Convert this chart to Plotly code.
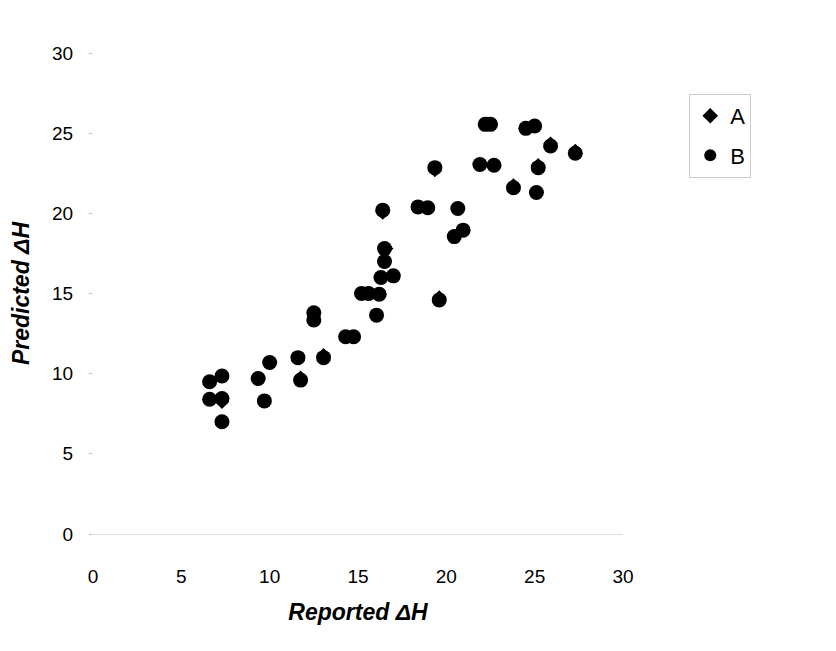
import plotly.graph_objects as go

# Series B (circles): reported vs predicted ΔH
b_reported = [6.6, 7.3, 6.6, 7.3, 7.3, 9.35, 10.0, 9.7, 11.6, 11.75, 13.05,
              14.3, 14.75, 12.5, 12.5, 16.05, 15.2, 15.6, 16.2, 16.3, 17.0,
              16.5, 16.5, 16.4, 18.4, 18.95, 20.65, 20.45, 20.95, 19.6, 19.35,
              21.9, 22.7, 22.2, 22.5, 24.5, 25.0, 25.9, 27.3, 25.2, 23.8, 25.1]
b_predicted = [9.5, 9.85, 8.4, 8.45, 7.0, 9.7, 10.7, 8.3, 11.0, 9.6, 11.0,
               12.3, 12.3, 13.8, 13.35, 13.65, 15.0, 15.0, 14.95, 16.0, 16.1,
               17.0, 17.8, 20.2, 20.4, 20.35, 20.3, 18.55, 18.95, 14.6, 22.85,
               23.05, 23.0, 25.55, 25.55, 25.3, 25.45, 24.2, 23.75, 22.85, 21.6, 21.3]

# Series A (diamonds)
a_reported = [7.3, 11.75, 13.05, 16.4, 19.6, 19.35, 25.9, 27.3, 25.2, 23.8, 16.6, 22.35]
a_predicted = [8.25, 9.75, 11.15, 20.05, 14.75, 22.7, 24.35, 23.9, 23.0, 21.75, 17.8, 25.6]

x_ticks = [0, 5, 10, 15, 20, 25, 30]
y_ticks = [0, 5, 10, 15, 20, 25, 30]

FONT = "Liberation Sans, Arial, sans-serif"

fig = go.Figure()
fig.add_trace(go.Scatter(
    x=a_reported, y=a_predicted, mode="markers", name="A", legendgroup="a",
    marker=dict(symbol="diamond", size=11, color="black", line=dict(width=0)),
))
fig.add_trace(go.Scatter(
    x=b_reported, y=b_predicted, mode="markers", name="B", legendgroup="b",
    marker=dict(symbol="circle", size=15, color="black", line=dict(width=0)),
))

fig.update_layout(
    width=836, height=651,
    margin=dict(l=85, r=221, t=45, b=125),
    paper_bgcolor="white", plot_bgcolor="white",
    font=dict(family=FONT, size=19, color="black"),
    showlegend=True,
    legend=dict(
        x=1.125, y=0.915, xanchor="left", yanchor="top",
        bordercolor="#cccccc", borderwidth=1,
        font=dict(size=22, family=FONT),
        itemsizing="constant", traceorder="grouped", tracegroupgap=8,
        itemwidth=30,
    ),
    xaxis=dict(
        range=[0, 30], tickvals=x_ticks, ticktext=[str(v) for v in x_ticks],
        showgrid=False, zeroline=False, showline=True, linecolor="#dddddd", linewidth=1,
        ticks="", ticklabelstandoff=25, automargin=False,
        title=dict(text="<b><i>Reported ΔH</i></b>", font=dict(size=23), standoff=18),
    ),
    yaxis=dict(
        range=[0, 30], tickvals=y_ticks, ticktext=[str(v) for v in y_ticks],
        showgrid=False, zeroline=False, showline=False,
        ticks="outside", ticklen=3, tickcolor="#bbbbbb", ticklabelstandoff=12,
        automargin=False,
        title=dict(text="<b><i>Predicted ΔH</i></b>", font=dict(size=23), standoff=16),
    ),
)

fig.write_html("out.html")
